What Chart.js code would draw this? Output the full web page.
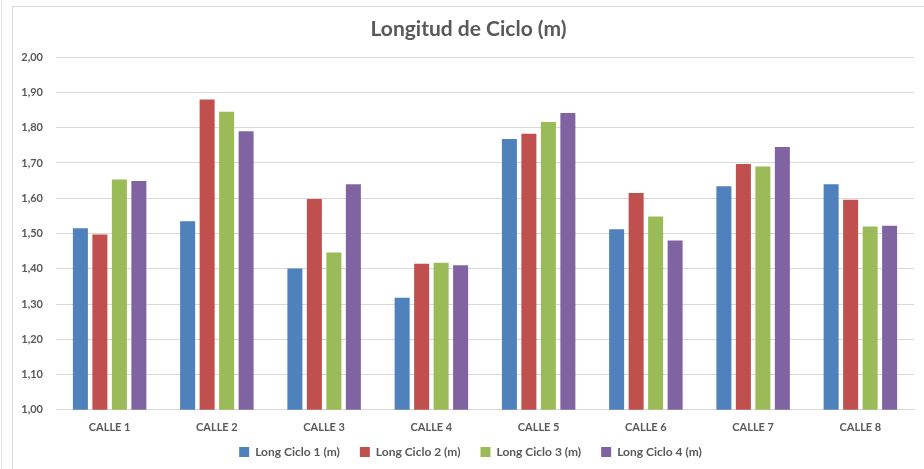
<!DOCTYPE html>
<html>
<head>
<meta charset="utf-8">
<script src="https://cdn.jsdelivr.net/npm/chart.js@4/dist/chart.umd.min.js"></script>
<style>
  html, body { margin: 0; padding: 0; background: #fff; }
  body { width: 924px; height: 469px; position: relative; overflow: hidden; }
  #edge { position: absolute; left: 1px; top: 0; width: 0; height: 469px; border-left: 1px solid #E3E3E3; }
  #frame { position: absolute; left: 12px; top: 6px; width: 912px; height: 463px;
           border-left: 1px solid #D9D9D9; border-top: 1px solid #D9D9D9; }
  #wrap { position: absolute; left: 0; top: 0; width: 911px; height: 462px; }
</style>
</head>
<body>
<div id="edge"></div>
<div id="frame"><div id="wrap"><canvas id="c" width="911" height="462"></canvas></div></div>
<script>
const categories = ["CALLE 1", "CALLE 2", "CALLE 3", "CALLE 4", "CALLE 5", "CALLE 6", "CALLE 7", "CALLE 8"];
const seriesNames = ["Long Ciclo 1 (m)", "Long Ciclo 2 (m)", "Long Ciclo 3 (m)", "Long Ciclo 4 (m)"];
const ciclo1 = [1.515, 1.535, 1.401, 1.318, 1.768, 1.512, 1.634, 1.640];
const ciclo2 = [1.497, 1.880, 1.598, 1.414, 1.783, 1.615, 1.697, 1.596];
const ciclo3 = [1.653, 1.845, 1.446, 1.417, 1.816, 1.548, 1.690, 1.520];
const ciclo4 = [1.649, 1.790, 1.640, 1.410, 1.842, 1.480, 1.745, 1.522];
const colors = ["#4F81BD", "#C0504D", "#9BBB59", "#8064A2"];
const titleText = "Longitud de Ciclo (m)";

const textColor = "#595959";
const fam = "Lato, 'Open Sans', sans-serif";

const allSeries = [ciclo1, ciclo2, ciclo3, ciclo4];
const datasets = allSeries.map((d, i) => ({
  label: seriesNames[i],
  data: d,
  backgroundColor: colors[i],
  borderWidth: 0,
  categoryPercentage: 0.727,
  barPercentage: 0.77
}));

const layoutFix = {
  id: "layoutFix",
  afterInit(chart) {
    const lg = chart.legend;
    if (lg) {
      const origFit = lg.fit;
      lg.fit = function () {
        origFit.call(this);
        this.height = 20;
      };
      lg.draw = function () {
        if (!this.options.display) return;
        const ctx = this.ctx;
        ctx.save();
        ctx.translate(7, -19);
        this._draw();
        ctx.restore();
      };
    }
    const tb = chart.titleBlock;
    if (tb) {
      const origTitleDraw = tb.draw;
      tb.draw = function () {
        const ctx = this.ctx;
        ctx.save();
        ctx.translate(5, 0);
        origTitleDraw.call(this);
        ctx.restore();
      };
    }
  }
};

new Chart(document.getElementById("c"), {
  type: "bar",
  data: { labels: categories, datasets: datasets },
  plugins: [layoutFix],
  options: {
    responsive: false,
    animation: false,
    layout: { padding: { left: 0, right: 10, top: 0, bottom: 4 } },
    plugins: {
      title: {
        display: true,
        text: titleText,
        color: textColor,
        font: { family: fam, size: 21, weight: "bold" },
        padding: { top: 10, bottom: 15 }
      },
      legend: {
        position: "bottom",
        labels: {
          color: textColor,
          font: { family: fam, size: 12, weight: "bold" },
          boxWidth: 10,
          boxHeight: 10,
          padding: 20
        }
      },
      tooltip: { enabled: false }
    },
    scales: {
      x: {
        grid: { display: false, drawTicks: false },
        border: { display: true, color: "#D9D9D9" },
        ticks: {
          color: textColor,
          font: { family: fam, size: 11, weight: "bold" },
          padding: 11,
          maxRotation: 0
        }
      },
      y: {
        min: 1.0,
        max: 2.0,
        afterFit: (s) => { s.width = 43; },
        grid: { color: "#D9D9D9", drawTicks: false },
        border: { display: false },
        ticks: {
          stepSize: 0.1,
          color: textColor,
          font: { family: fam, size: 11, weight: "bold" },
          padding: 13,
          callback: (v) => Number(v).toFixed(2).replace(".", ",")
        }
      }
    }
  }
});
</script>
</body>
</html>
